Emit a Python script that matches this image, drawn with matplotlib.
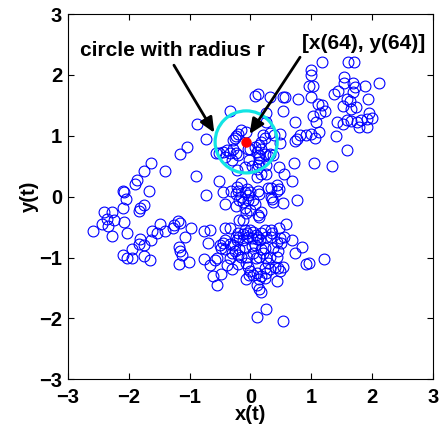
import matplotlib
matplotlib.use("Agg")
import matplotlib.pyplot as plt
from matplotlib.patches import Circle

plt.rcParams['font.family'] = ['Liberation Sans', 'DejaVu Sans']
plt.rcParams['axes.unicode_minus'] = True

# scatter points
pts_upper_right = [
    (1.18, 2.21), (1.61, 2.21), (1.70, 2.21), (1.00, 2.08), (1.00, 2.00), (2.11, 1.86),
    (1.54, 1.96), (1.54, 1.86), (0.96, 1.82), (1.03, 1.82), (1.89, 1.82), (1.69, 1.86),
    (1.71, 1.80), (1.38, 1.68), (1.44, 1.74), (1.69, 1.72), (1.00, 1.64), (1.58, 1.61),
    (1.63, 1.58), (1.93, 1.60), (1.11, 1.53), (1.17, 1.51), (1.52, 1.49), (1.66, 1.44),
    (1.74, 1.48), (1.15, 1.38), (1.23, 1.40), (1.03, 1.33), (1.95, 1.37), (2.00, 1.30),
    (1.92, 1.27), (1.07, 1.23), (1.42, 1.22), (1.52, 1.20), (1.58, 1.26), (1.66, 1.25),
    (1.75, 1.23), (1.82, 1.26), (1.78, 1.15), (1.92, 1.15), (1.13, 1.07), (0.92, 1.02),
    (1.00, 1.03), (0.81, 1.01), (1.40, 1.00), (1.06, 0.96), (0.73, 0.92), (0.76, 0.95),
    (1.59, 0.76), (0.74, 1.22), (0.78, 1.60), (0.53, 1.63), (0.56, 1.63), (0.54, 1.41),
    (0.32, 1.64), (0.08, 1.65), (0.13, 1.69), (0.25, 1.38), (0.25, 1.22), (0.71, 0.56),
    (1.04, 0.56), (1.34, 0.51), (0.47, 0.49), (0.55, 0.37), (0.69, 0.25), (0.76, -0.06),
    (0.53, -0.11), (0.32, 1.05), (0.38, 1.01), (0.48, 1.03), (0.48, 0.89), (0.32, 0.70),
    (0.37, 0.68), (0.44, 0.19), (0.47, 0.12), (0.44, 0.10), (0.33, 0.14), (0.36, -0.04),
    (0.34, 0.00), (0.37, -0.08),
]
pts_upper_mid = [
    (-0.34, 1.41), (-0.56, 0.71), (-0.51, 0.72), (-0.45, 0.74), (-0.39, 0.76), (-0.34, 0.72),
    (-0.42, 0.66), (-0.30, 0.60), (-0.28, 0.79), (-0.23, 0.71), (-0.20, 0.68), (-0.28, 0.93),
    (-0.26, 0.96), (-0.23, 0.99), (-0.20, 1.03), (-0.16, 1.09), (-0.07, 1.07), (-0.04, 0.79),
    (0.00, 0.78), (0.07, 0.82), (0.14, 0.85), (0.18, 0.79), (0.11, 0.74), (0.14, 0.68),
    (0.14, 0.63), (0.14, 0.57), (0.13, 0.52), (0.10, 0.46), (0.02, 0.50), (0.24, 0.70),
    (0.29, 0.67), (0.26, 0.52), (0.25, 0.38), (0.18, 0.38), (0.10, 0.33), (-0.22, 0.44),
    (-0.09, 0.49), (-0.02, 0.60), (-0.15, 0.23), (0.21, 1.01), (0.24, 0.96), (0.18, 0.90),
]
pts_middle = [
    (-0.52, 0.25), (-0.73, 0.03), (-0.45, 0.07), (-0.32, 0.10), (-0.22, 0.16), (-0.20, 0.10),
    (-0.23, 0.04), (-0.15, 0.00), (-0.09, 0.08), (-0.05, 0.12), (-0.01, 0.08), (-0.04, 0.03),
    (-0.18, -0.05), (-0.12, -0.08), (-0.04, -0.05), (0.04, -0.05), (-0.41, -0.12), (-0.24, -0.15),
    (-0.09, -0.19), (-0.01, -0.22), (0.07, -0.12), (-0.07, -0.27), (0.13, -0.30), (0.18, -0.26),
    (0.14, -0.33), (-0.18, -0.38), (0.13, 0.10), (0.14, 0.05), (0.29, 0.15), (-0.13, -0.38),
]
pts_lower = [
    (-0.77, -0.56), (-0.67, -0.55), (-0.77, -1.03), (-0.70, -0.76), (-0.67, -1.12), (-0.62, -1.30),
    (-0.55, -1.45), (-0.59, -1.04), (-0.55, -1.01), (-0.49, -1.27), (-0.50, -0.79), (-0.45, -0.76),
    (-0.41, -0.72), (-0.48, -0.84), (-0.42, -0.86), (-0.41, -0.51), (-0.34, -0.51), (-0.34, -0.77),
    (-0.28, -0.79), (-0.34, -1.01), (-0.39, -1.12), (-0.30, -1.19), (-0.31, -0.93), (-0.24, -0.66),
    (-0.20, -0.60), (-0.18, -0.67), (-0.13, -0.62), (-0.09, -0.55), (-0.05, -0.59), (0.00, -0.54),
    (0.04, -0.58), (0.09, -0.63), (0.13, -0.67), (0.15, -0.71), (0.10, -0.70), (0.03, -0.68),
    (-0.04, -0.67), (-0.12, -0.71), (-0.22, -0.72), (-0.21, -1.11), (-0.26, -0.89), (-0.19, -0.86),
    (-0.09, -0.85), (-0.05, -0.99), (-0.08, -1.09), (-0.04, -1.15), (0.00, -1.22), (-0.02, -1.29),
    (-0.07, -1.36), (0.05, -1.29), (0.11, -1.25), (0.14, -1.36), (0.18, -1.31), (0.10, -1.45),
    (0.14, -1.52), (0.17, -1.56), (0.05, -0.93), (0.09, -1.01), (0.14, -0.99), (0.18, -0.86),
    (0.24, -0.85), (0.21, -0.93), (0.26, -1.01), (0.32, -0.99), (0.29, -1.09), (0.24, -1.18),
    (0.32, -1.19), (0.26, -1.26), (0.24, -1.34), (0.33, -0.54), (0.36, -0.60), (0.34, -0.66),
    (0.26, -0.67), (0.48, -0.68), (0.55, -0.67), (0.51, -0.76), (0.43, -0.74), (0.37, -0.85),
    (0.45, -0.90), (0.43, -0.99), (0.40, -1.15), (0.45, -1.18), (0.54, -1.15), (0.49, -1.22),
    (0.44, -1.38), (0.59, -0.45), (0.47, -0.51), (0.69, -0.72), (0.73, -0.92), (0.85, -0.82),
    (0.92, -1.11), (0.97, -1.09), (1.21, -1.03), (0.10, -1.97), (0.25, -1.85), (0.54, -2.04),
    (-0.15, -0.99), (-0.20, -0.96), (0.18, -0.60), (0.24, -0.55), (0.02, -0.81), (0.07, -0.79),
]
pts_left = [
    (-2.58, -0.56), (-2.40, -0.25), (-2.43, -0.45), (-2.35, -0.36), (-2.34, -0.48), (-2.27, -0.26),
    (-2.24, -0.38), (-2.27, -0.65), (-2.10, 0.09), (-2.07, 0.08), (-2.05, -0.04), (-2.10, -0.18),
    (-2.07, -0.41), (-2.02, -0.60), (-2.10, -0.96), (-2.03, -1.00), (-1.94, -1.01), (-1.94, -0.86),
    (-1.89, 0.20), (-1.86, 0.27), (-1.75, 0.43), (-1.64, 0.56), (-1.67, 0.10), (-1.75, -0.14),
    (-1.83, -0.23), (-1.82, -0.19), (-1.82, -0.70), (-1.83, -0.77), (-1.75, -0.79), (-1.75, -0.97),
    (-1.65, -1.04), (-1.63, -0.71), (-1.61, -0.56), (-1.54, -0.59), (-1.48, -0.45), (-1.41, -0.57),
    (-1.41, 0.43), (-1.27, -0.51), (-1.26, -0.47), (-1.19, -0.40), (-1.16, -0.43), (-0.98, -0.52),
    (-1.08, -0.67), (-1.18, -0.82), (-1.15, -0.90), (-1.12, -0.96), (-1.18, -1.11), (-1.01, -1.07),
    (-1.15, 0.70), (-1.05, 0.82), (-0.87, 1.19), (-0.90, 0.34), (-0.73, 0.94),
]

center = (-0.07, 0.90)   # [x(64), y(64)]
radius = 0.51

xticks = [-3, -2, -1, 0, 1, 2, 3]
yticks = [-3, -2, -1, 0, 1, 2, 3]

fig = plt.figure(figsize=(4.46, 4.28), dpi=100)
ax = fig.add_axes([0.152, 0.114, 0.819, 0.853])

allpts = pts_upper_right + pts_upper_mid + pts_middle + pts_lower + pts_left
xs = [p[0] for p in allpts]
ys = [p[1] for p in allpts]
ax.plot(xs, ys, 'o', mfc='none', mec='#0000ff', ms=7.8, mew=0.8, zorder=2)

ax.add_patch(Circle(center, radius, fill=False, ec='#12e4e4', lw=2.3, zorder=3))
ax.plot([center[0]], [center[1]], 'o', color='#ff0000', ms=6.5, zorder=5)

ax.set_xlim(-3, 3)
ax.set_ylim(-3, 3)
ax.set_xticks(xticks)
ax.set_yticks(yticks)
ax.set_xticklabels([str(t).replace('-', '\u2212') for t in xticks], fontsize=14.5, fontweight='bold')
ax.set_yticklabels([str(t).replace('-', '\u2212') for t in yticks], fontsize=14.5, fontweight='bold')
ax.tick_params(direction='in', top=True, right=True, length=4, width=0.8)
ax.tick_params(axis='x', pad=6)
ax.tick_params(axis='y', pad=4)
for s in ax.spines.values():
    s.set_linewidth(0.8)
ax.set_xlabel('x(t)', fontsize=14.5, fontweight='bold', labelpad=-1)
ax.set_ylabel('y(t)', fontsize=14.5, fontweight='bold', labelpad=0)

ax.annotate('', xy=(-0.57, 1.01), xytext=(-1.28, 2.20),
            arrowprops=dict(arrowstyle='-|>,head_length=0.9,head_width=0.4', color='black', lw=2.0),
            zorder=6)
ax.annotate('', xy=(-0.04, 0.99), xytext=(0.84, 2.33),
            arrowprops=dict(arrowstyle='-|>,head_length=0.9,head_width=0.4', color='black', lw=2.0),
            zorder=6)
ax.text(-2.80, 2.41, 'circle with radius r', fontsize=15, fontweight='bold',
        ha='left', va='center', zorder=7)
ax.text(0.84, 2.52, '[x(64), y(64)]', fontsize=15, fontweight='bold',
        ha='left', va='center', zorder=7)

fig.savefig('out.png', dpi=100)
